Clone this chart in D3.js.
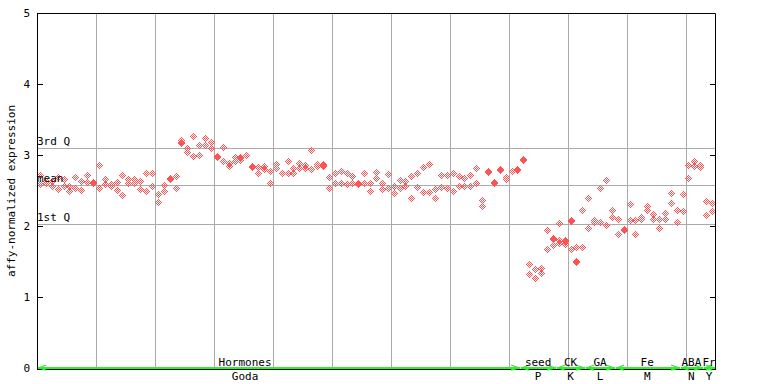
<!DOCTYPE html>
<html>
<head>
<meta charset="utf-8">
<script src="https://cdn.jsdelivr.net/npm/d3@7/dist/d3.min.js"></script>
<style>
  body { margin: 0; background: #fff; }
  text { font-family: "DejaVu Sans Mono", monospace; font-size: 11px; fill: #000; }
</style>
</head>
<body>
<div id="chart"></div>
<script>
// one entry per sample slot, replicate values
const sampleValues = [
  [2.72, 2.59], [2.63, 2.60], [2.63, 2.56], [2.52, 2.69], [2.66, 2.57],
  [2.57, 2.50], [2.69, 2.53], [2.64, 2.51], [2.72, 2.62], [2.62, 2.606],
  [2.86, 2.53], [2.66, 2.59], [2.59, 2.57], [2.62, 2.51], [2.72, 2.44],
  [2.66, 2.60], [2.66, 2.60], [2.64, 2.52], [2.75, 2.50], [2.75, 2.57],
  [2.45, 2.34], [2.58, 2.50], [2.67, 2.656], [2.71, 2.53], [3.21, 3.18, 3.166],
  [3.10, 3.04], [3.27, 2.99], [3.14, 3.00], [3.24, 3.14], [3.18, 3.10],
  [2.98, 2.966], [3.11, 2.92], [2.89, 2.84], [2.97, 2.91], [2.97, 2.956, 2.93],
  [3.00, 3.00], [2.84, 2.826], [2.83, 2.74], [2.84, 2.80], [2.77, 2.61],
  [2.88, 2.81], [2.74, 2.74], [2.91, 2.75], [2.82, 2.74], [2.89, 2.82],
  [2.86, 2.82], [3.07, 2.80], [2.88, 2.84], [2.87, 2.856, 2.84], [2.69, 2.53],
  [2.74, 2.60], [2.77, 2.60], [2.75, 2.59], [2.71, 2.61], [2.61, 2.596],
  [2.74, 2.60], [2.60, 2.50], [2.76, 2.67], [2.61, 2.52], [2.73, 2.53],
  [2.56, 2.47], [2.65, 2.53], [2.63, 2.56], [2.71, 2.39], [2.75, 2.55],
  [2.83, 2.48], [2.88, 2.48], [2.52, 2.39], [2.72, 2.55], [2.72, 2.53],
  [2.74, 2.49], [2.70, 2.57], [2.67, 2.57], [2.72, 2.57], [2.82, 2.60],
  [2.37, 2.28], [2.78, 2.766], [2.62, 2.606], [2.80, 2.786], [2.69, 2.66],
  [2.78, 2.78], [2.80, 2.786], [2.94, 2.926], [1.46, 1.33], [1.40, 1.27],
  [1.41, 1.34], [1.95, 1.67], [1.83, 1.816, 1.73], [2.04, 1.80, 1.76], [1.80, 1.786, 1.75],
  [2.08, 2.066, 1.68], [1.71, 1.50, 1.486], [2.23, 1.71], [2.39, 1.97], [2.09, 2.06],
  [2.53, 2.06], [2.65, 2.02], [2.22, 2.13], [2.10, 1.89], [1.96, 1.946],
  [2.31, 2.09], [2.09, 1.89], [2.13, 2.10], [2.28, 2.22], [2.17, 2.10],
  [2.10, 1.97], [2.19, 2.10], [2.46, 2.32], [2.22, 2.05], [2.45, 2.21],
  [2.86, 2.67], [2.92, 2.84], [2.86, 2.83], [2.35, 2.15], [2.32, 2.21]
];

const yTicks = [0, 1, 2, 3, 4, 5];
const gridSlots = [10, 20, 30, 40, 50, 60, 70, 80, 90, 100, 110];

const refNames = ["3rd Q", "mean", "1st Q"];
const refValues = [3.10, 2.58, 2.03];

const groupNames = ["Hormones", "seed", "CK", "GA", "Fe", "ABA", "Fr"];
const groupCodes = ["Goda", "P", "K", "L", "M", "N", "Y"];
const groupStart = [0, 82, 88, 93, 98, 109, 113];
const groupEnd = [82, 88, 93, 98, 109, 113, 115];
const groupLabelAt = [35.3, 85, 90.5, 95.5, 103.5, 111, 114];

const width = 768, height = 384;
const mLeft = 37, mRight = 715, mTop = 13, mBottom = 368;
const green = "#2ef02e";

const x = d3.scaleLinear().domain([0, sampleValues.length]).range([mLeft, mRight]);
const y = d3.scaleLinear().domain([0, 5]).range([mBottom, mTop]);

const svg = d3.select("#chart").append("svg")
    .attr("width", width)
    .attr("height", height)
    .attr("viewBox", [0, 0, width, height]);

// grid
svg.append("g")
  .selectAll("line")
  .data(gridSlots)
  .join("line")
    .attr("x1", d => Math.round(x(d)) + 0.5)
    .attr("x2", d => Math.round(x(d)) + 0.5)
    .attr("y1", mTop)
    .attr("y2", mBottom + 1)
    .attr("stroke", "#aaa");

svg.append("g")
  .selectAll("line")
  .data(refValues)
  .join("line")
    .attr("x1", mLeft)
    .attr("x2", mRight)
    .attr("y1", d => Math.round(y(d)) + 0.5)
    .attr("y2", d => Math.round(y(d)) + 0.5)
    .attr("stroke", "#aaa");

// checkered diamond built from 1px squares
let diamond = "";
for (let dy = -3; dy <= 3; dy++) {
  for (let dx = -3; dx <= 3; dx++) {
    if (Math.abs(dx) + Math.abs(dy) <= 3 && Math.abs(dx + dy) % 2 === 1) {
      diamond += `M${dx},${dy}h1v1h-1z`;
    }
  }
}

const points = sampleValues.flatMap((vals, i) => vals.map(v => ({slot: i, value: v})));

svg.append("g")
    .attr("fill", "#ff5252")
  .selectAll("path")
  .data(points)
  .join("path")
    .attr("transform", d => `translate(${Math.round(x(d.slot + 0.5))},${Math.round(y(d.value))})`)
    .attr("d", diamond);

// ref line labels
svg.append("g")
  .selectAll("text")
  .data(refValues)
  .join("text")
    .attr("x", mLeft)
    .attr("y", d => Math.round(y(d)) - 3)
    .text((d, i) => refNames[i]);

// frame
const frame = svg.append("g").attr("stroke", "#000").attr("fill", "none");
frame.append("path")
    .attr("d", `M${mLeft + 0.5},${mBottom + 1.5}V${mTop + 0.5}H${mRight + 0.5}V${mBottom + 1.5}`);

frame.selectAll(".lt")
  .data(yTicks)
  .join("line")
    .attr("x1", mLeft)
    .attr("x2", mLeft + 6)
    .attr("y1", d => Math.round(y(d)) + 0.5)
    .attr("y2", d => Math.round(y(d)) + 0.5);

frame.selectAll(".rt")
  .data(yTicks)
  .join("line")
    .attr("x1", mRight - 5)
    .attr("x2", mRight)
    .attr("y1", d => Math.round(y(d)) + 0.5)
    .attr("y2", d => Math.round(y(d)) + 0.5);

svg.append("g")
  .selectAll("text")
  .data(yTicks)
  .join("text")
    .attr("x", mLeft - 7)
    .attr("y", d => y(d))
    .attr("dy", "0.35em")
    .attr("text-anchor", "end")
    .text(d => d);

svg.append("text")
    .attr("transform", `translate(15,191) rotate(-90)`)
    .attr("text-anchor", "middle")
    .text("affy-normalized expression");

// group ranges along the bottom
const groups = groupNames.map((name, i) => ({
  name: name, code: groupCodes[i], start: groupStart[i], end: groupEnd[i], at: groupLabelAt[i]
}));

svg.append("line")
    .attr("x1", mLeft)
    .attr("x2", mRight + 1)
    .attr("y1", mBottom + 1.5)
    .attr("y2", mBottom + 1.5)
    .attr("stroke", "#000");

const gr = svg.append("g");
gr.selectAll(".seg")
  .data(groups)
  .join("rect")
    .attr("x", d => Math.round(x(d.start)) + 1)
    .attr("width", d => Math.round(x(d.end)) - Math.round(x(d.start)) - 1)
    .attr("y", mBottom - 1)
    .attr("height", 2)
    .attr("fill", green);

gr.selectAll(".la")
  .data(groups)
  .join("path")
    .attr("fill", "none")
    .attr("stroke", green)
    .attr("stroke-width", 1.3)
    .attr("d", d => { const s = Math.round(x(d.start)); return `M${s + 9},${mBottom - 3}L${s + 2},${mBottom}L${s + 9},${mBottom + 2}`; });

gr.selectAll(".ra")
  .data(groups)
  .join("path")
    .attr("fill", "none")
    .attr("stroke", green)
    .attr("stroke-width", 1.3)
    .attr("d", d => { const e = Math.round(x(d.end)); return `M${e - 9},${mBottom - 3}L${e - 1},${mBottom}L${e - 9},${mBottom + 2}`; });

gr.selectAll(".gn")
  .data(groups)
  .join("text")
    .attr("x", d => x(d.at))
    .attr("y", mBottom - 2)
    .attr("text-anchor", "middle")
    .text(d => d.name);

gr.selectAll(".gc")
  .data(groups)
  .join("text")
    .attr("x", d => x(d.at))
    .attr("y", mBottom + 12)
    .attr("text-anchor", "middle")
    .text(d => d.code);
</script>
</body>
</html>
